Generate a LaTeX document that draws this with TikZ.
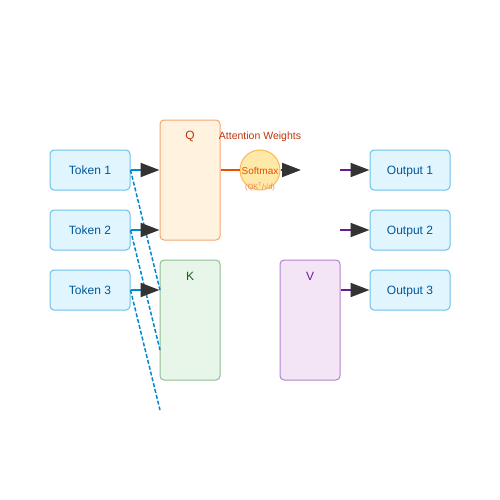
\documentclass[tikz,border=0pt]{standalone}
\usepackage{fontspec}
\setmainfont{Liberation Sans}
\usetikzlibrary{arrows.meta}
\definecolor{tokfill}{HTML}{E1F5FE}
\definecolor{tokdraw}{HTML}{6EC0EA}
\definecolor{toktext}{HTML}{01579B}
\definecolor{qfill}{HTML}{FFF3E0}
\definecolor{qdraw}{HTML}{F4A570}
\definecolor{qtext}{HTML}{BF360C}
\definecolor{kfill}{HTML}{E8F5E9}
\definecolor{kdraw}{HTML}{8FBF92}
\definecolor{ktext}{HTML}{1B5E20}
\definecolor{vfill}{HTML}{F3E5F5}
\definecolor{vdraw}{HTML}{B183CC}
\definecolor{vtext}{HTML}{6A1B9A}
\definecolor{smfill}{HTML}{FFE9A8}
\definecolor{smdraw}{HTML}{FFB74D}
\definecolor{smtext}{HTML}{E65100}
\definecolor{flowblue}{HTML}{0288D1}
\definecolor{headgray}{HTML}{333333}
\begin{document}
\begin{tikzpicture}
    [
        x=1pt, y=-1pt,
        token/.style = {draw=tokdraw, fill=tokfill, text=toktext, shape=rectangle, rounded corners=4pt, minimum height=40pt, minimum width=80pt, inner sep=0pt, line width=1pt, text depth=0pt, font=\fontsize{12}{14}\selectfont},
        matrixbox/.style = {shape=rectangle, rounded corners=4pt, minimum height=120pt, minimum width=60pt, inner sep=0pt, line width=1pt},
        boxlabel/.style = {font=\fontsize{12}{14}\selectfont},
        head/.style = {-{Triangle[length=19pt,width=14pt,color=headgray]}, line width=2pt},
    ]

    \useasboundingbox (0,0) rectangle (500,500);

    \node[token] (t1) at (90,170)     {Token 1};
    \node[token] (t2) at (90,230)     {Token 2};
    \node[token] (t3) at (90,290)     {Token 3};

    \node[matrixbox, draw=qdraw, fill=qfill] (q) at (190,180) {};
    \node[boxlabel, text=qtext] (qlab) at (190,136) {Q};
    \node[matrixbox, draw=kdraw, fill=kfill] (k) at (190,320) {};
    \node[boxlabel, text=ktext] (klab) at (190,276) {K};
    \node[matrixbox, draw=vdraw, fill=vfill] (v) at (310,320) {};
    \node[boxlabel, text=vtext] (vlab) at (310,276) {V};

    \node[circle, draw=smdraw, fill=smfill, line width=1pt, minimum size=40pt, inner sep=0pt] (sm) at (260,170) {};
    \node[text=smtext, font=\fontsize{10}{12}\selectfont] (smlab) at (260,171) {Softmax};
    \node[text=smtext!70, font=\fontsize{7.5}{9}\selectfont] (smform) at (260,187) {(QK\textsuperscript{T}/√d)};
    \node[text=qtext, font=\fontsize{10.5}{12}\selectfont] (attw) at (260,137) {Attention Weights};

    \node[token] (o1) at (410,170)   {Output 1};
    \node[token] (o2) at (410,230)   {Output 2};
    \node[token] (o3) at (410,290)   {Output 3};

    \coordinate (k1) at (160,290);
    \coordinate (k2) at (160,350);
    \coordinate (k3) at (160,410);
    \coordinate (smout) at (301,170);
    \coordinate (w1) at (340,170);
    \coordinate (w2) at (340,230);

    % dashed key links
    \draw [flowblue, line width=1.5pt, dash pattern=on 4pt off 2pt] (t1.east) -- (k1);
    \draw [flowblue, line width=1.5pt, dash pattern=on 4pt off 2pt] (t2.east) -- (k2);
    \draw [flowblue, line width=1.5pt, dash pattern=on 4pt off 2pt] (t3.east) -- (k3);

    \draw [head, flowblue] (t1.east) -- (q.west |- t1.east);
    \draw [head, flowblue] (t2.east) -- (q.west |- t2.east);
    \draw [head, flowblue] (t3.east) -- (k.west |- t3.east);

    \draw [smtext, line width=2pt] (q.east |- sm.west) -- (sm.west);
    \draw [head, vtext] (sm.east) -- (smout);

    \draw [head, vtext] (w1) -- (o1.west);
    \draw [head, vtext] (w2) -- (o2.west);
    \draw [head, vtext] (v.east |- o3.west) -- (o3.west);
\end{tikzpicture}
\end{document}
